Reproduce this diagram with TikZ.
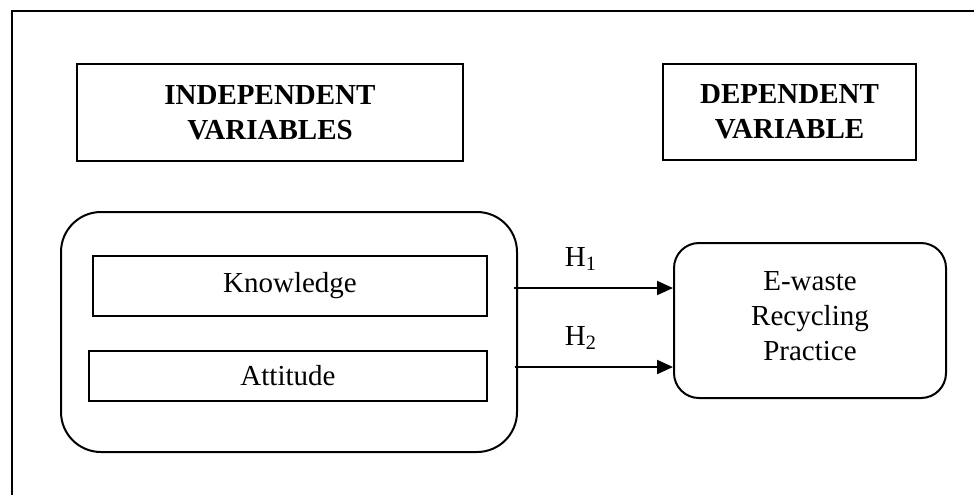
\documentclass[tikz,border=0pt]{standalone}
\usepackage{fontspec}
\setmainfont{Liberation Serif}
\usetikzlibrary{arrows.meta}
\begin{document}
\begin{tikzpicture}[x=0.5pt,y=-0.5pt,
  txt/.style={font=\fontsize{14.5}{17.5}\selectfont, align=center, inner sep=0pt},
  hdr/.style={draw, line width=1.1pt, inner sep=0pt, font=\fontsize{14.5}{17.5}\selectfont\bfseries, align=center},
  varbox/.style={draw, line width=1pt, inner sep=0pt, font=\fontsize{14.5}{17.5}\selectfont, align=center},
  rbox/.style={draw, line width=1pt, inner sep=0pt, font=\fontsize{14.5}{17.5}\selectfont, align=center},
  arr/.style={line width=1pt, -{Triangle[length=8pt,width=7pt]}}]
\useasboundingbox (0,0) rectangle (974,495);
% outer frame (top and left edges only)
\coordinate (ftl) at (12,11);
\coordinate (ftr) at (974,11);
\coordinate (fbl) at (12,495);
\draw[line width=1pt] (fbl) -- (ftl) -- (ftr);
% headers
\node[hdr, minimum width=193pt, minimum height=48.5pt] (iv) at (270,112.5) {INDEPENDENT\\VARIABLES};
\node[hdr, minimum width=126.5pt, minimum height=48pt] (dv) at (789.5,112) {DEPENDENT\\VARIABLE};
% big rounded container
\node[rbox, rounded corners=20pt, minimum width=228pt, minimum height=120pt] (big) at (289,332) {};
\node[varbox, minimum width=197pt, minimum height=30pt] (kn) at (290,286) {Knowledge};
\node[varbox, minimum width=199pt, minimum height=25pt] (at) at (288,376) {Attitude};
% dependent box
\node[rbox, rounded corners=12.5pt, minimum width=136pt, minimum height=77.5pt] (ew) at (810,320.5) {};
\node[txt] (ewt) at (810,316) {E-waste\\Recycling\\Practice};
% arrows
\coordinate (a1) at (514,288);
\coordinate (a2) at (515,367);
\draw[arr] (a1) -- (a1 -| ew.west);
\draw[arr] (a2) -- (a2 -| ew.west);
\node[txt] (h1) at (581,259) {H\textsubscript{1}};
\node[txt] (h2) at (581,338) {H\textsubscript{2}};
\end{tikzpicture}
\end{document}
